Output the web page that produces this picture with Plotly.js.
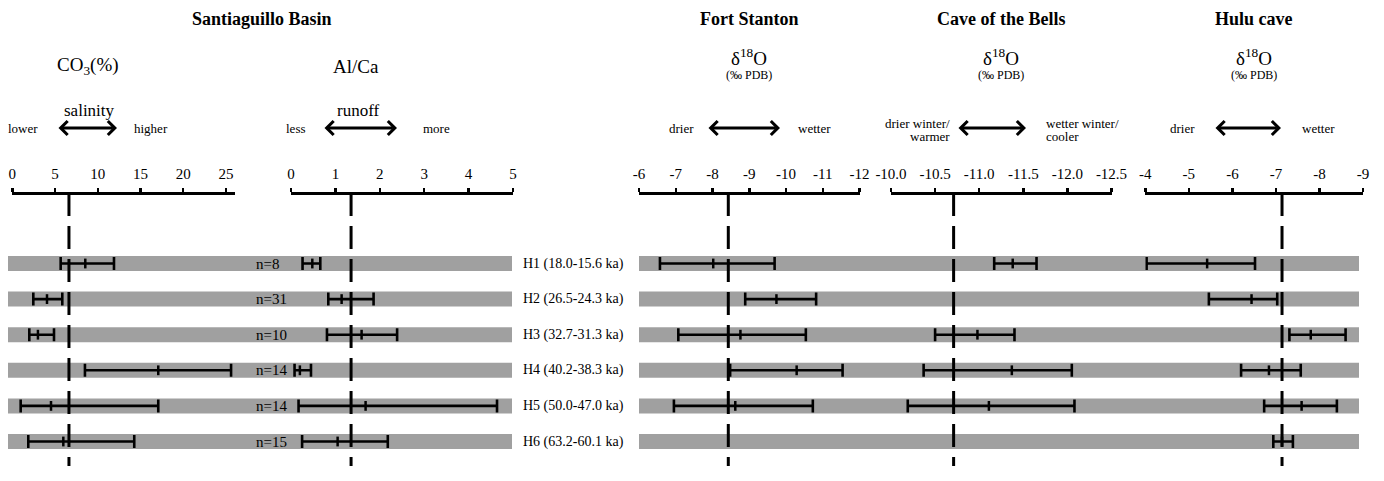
<!DOCTYPE html>
<html>
<head>
<meta charset="utf-8">
<script src="https://cdn.plot.ly/plotly-3.0.1.min.js"></script>
<style>
  html, body { margin: 0; padding: 0; background: #ffffff; }
  #chart { width: 1384px; height: 481px; }
</style>
</head>
<body>
<div id="chart"></div>
<script>
// ---- data -------------------------------------------------------------
const rows = [1, 2, 3, 4, 5, 6];
const intervals = ['H1 (18.0-15.6 ka)', 'H2 (26.5-24.3 ka)', 'H3 (32.7-31.3 ka)',
                   'H4 (40.2-38.3 ka)', 'H5 (50.0-47.0 ka)', 'H6 (63.2-60.1 ka)'];
const sampleCounts = ['n=8', 'n=31', 'n=10', 'n=14', 'n=14', 'n=15'];

// Santiaguillo Basin, CO3 (%)
const co3Low  = [5.66, 2.46, 1.99, 8.5, 0.98, 1.87];
const co3Mean = [8.54, 4.06, 3.0, 17.08, 4.53, 5.97];
const co3High = [11.9, 5.85, 4.88, 25.6, 17.08, 14.27];

// Santiaguillo Basin, Al/Ca
const alcaLow  = [0.26, 0.84, 0.81, 0.08, 0.17, 0.25];
const alcaMean = [0.48, 1.14, 1.59, 0.2, 1.68, 1.05];
const alcaHigh = [0.66, 1.86, 2.39, 0.45, 4.64, 2.18];

// Fort Stanton, d18O (permil PDB)
const fortLow  = [-6.57, -8.89, -7.07, -8.48, -6.95, null];
const fortMean = [-8.02, -9.74, -8.76, -10.29, -8.62, null];
const fortHigh = [-9.69, -10.82, -10.54, -11.54, -10.73, null];

// Cave of the Bells, d18O (permil PDB)
const caveLow  = [-11.17, null, -10.50, -10.37, -10.19, null];
const caveMean = [-11.38, null, -10.98, -11.37, -11.11, null];
const caveHigh = [-11.65, null, -11.40, -12.05, -12.08, null];

// Hulu cave, d18O (permil PDB)
const huluLow  = [-4.03, -5.46, -7.31, -6.20, -6.73, -6.94];
const huluMean = [-5.42, -6.44, -7.80, -6.84, -7.59, -7.14];
const huluHigh = [-6.52, -7.03, -8.60, -7.57, -8.40, -7.39];

// dashed reference value for each record
const refValues = [6.63, 1.353, -8.43, -10.71, -7.14];

// axis ticks
const co3Ticks  = [0, 5, 10, 15, 20, 25];
const co3Text   = ['0', '5', '10', '15', '20', '25'];
const alcaTicks = [0, 1, 2, 3, 4, 5];
const alcaText  = ['0', '1', '2', '3', '4', '5'];
const fortTicks = [-6, -7, -8, -9, -10, -11, -12];
const fortText  = ['-6', '-7', '-8', '-9', '-10', '-11', '-12'];
const caveTicks = [-10, -10.5, -11, -11.5, -12, -12.5];
const caveText  = ['-10.0', '-10.5', '-11.0', '-11.5', '-12.0', '-12.5'];
const huluTicks = [-4, -5, -6, -7, -8, -9];
const huluText  = ['-4', '-5', '-6', '-7', '-8', '-9'];

// ---- layout helpers ----------------------------------------------------
const W = 1384, H = 481;
const FONT = 'Liberation Serif, Times New Roman, serif';
const GRAY = '#a0a0a0';
const px = v => v / W;
const py = v => 1 - v / H;
const AXIS_Y = py(193);
const ROW_PX0 = 263.5, ROW_STEP = 35.6;

function topAxis(x0, x1, range, vals, text) {
  return {
    domain: [px(x0), px(x1)], range: range, anchor: 'free', position: AXIS_Y,
    side: 'top', showline: true, linecolor: '#000', linewidth: 2.5,
    ticks: 'outside', ticklen: 4, tickwidth: 2.5, tickcolor: '#000',
    tickmode: 'array', tickvals: vals, ticktext: text, ticklabelstandoff: 3,
    tickfont: { family: FONT, size: 15, color: '#000' },
    showgrid: false, zeroline: false, fixedrange: true
  };
}

// error bars run from the smaller to the larger bound, whatever the axis direction
function plusPart(low, mean, high) {
  return mean.map((m, i) => m == null ? null : Math.max(low[i], high[i]) - m);
}
function minusPart(low, mean, high) {
  return mean.map((m, i) => m == null ? null : m - Math.min(low[i], high[i]));
}

function record(axisId, low, mean, high) {
  return {
    type: 'scatter', mode: 'markers', xaxis: axisId, yaxis: 'y',
    x: mean, y: rows, cliponaxis: false, hoverinfo: 'skip', showlegend: false,
    marker: { symbol: 'line-ns-open', size: 7, color: '#000', line: { color: '#000', width: 2.5 } },
    error_x: {
      type: 'data', symmetric: false,
      array: plusPart(low, mean, high),
      arrayminus: minusPart(low, mean, high),
      color: '#000', thickness: 2.6, width: 6.5
    }
  };
}

const traces = [
  record('x',  co3Low,  co3Mean,  co3High),
  record('x2', alcaLow, alcaMean, alcaHigh),
  record('x3', fortLow, fortMean, fortHigh),
  record('x4', caveLow, caveMean, caveHigh),
  record('x5', huluLow, huluMean, huluHigh)
];

// ---- shapes: row bands and dashed reference lines -----------------------
const shapes = [];
const BAND_HALF = 7.5 / ROW_STEP;
rows.forEach(r => {
  [[8, 512], [639, 1359]].forEach(([a, b]) => {
    shapes.push({ type: 'rect', xref: 'paper', yref: 'y', layer: 'below',
      x0: px(a), x1: px(b), y0: r - BAND_HALF, y1: r + BAND_HALF,
      fillcolor: GRAY, line: { width: 0 } });
  });
});
['x', 'x2', 'x3', 'x4', 'x5'].forEach((ax, i) => {
  shapes.push({ type: 'line', xref: ax, yref: 'paper', layer: 'above',
    x0: refValues[i], x1: refValues[i], y0: AXIS_Y, y1: py(466),
    line: { color: '#000', width: 3, dash: '23px,10px' } });
});

// ---- annotations --------------------------------------------------------
const annotations = [];
function label(text, x, y, size, opts) {
  annotations.push(Object.assign({
    text: text, x: px(x), y: py(y), xref: 'paper', yref: 'paper',
    showarrow: false, xanchor: 'center', yanchor: 'middle',
    font: { family: FONT, size: size, color: '#000' }
  }, opts || {}));
}
function twoWay(x0, x1, y) {
  annotations.push({
    text: '', xref: 'paper', yref: 'paper', x: px(x1), y: py(y),
    ax: -(x1 - x0), ay: 0, showarrow: true, arrowside: 'end+start',
    arrowhead: 4, startarrowhead: 4, arrowsize: 0.9, startarrowsize: 0.9,
    arrowwidth: 3, arrowcolor: '#000', standoff: 0, startstandoff: 0
  });
}

// site titles
label('<b>Santiaguillo Basin</b>', 262, 19, 18);
label('<b>Fort Stanton</b>', 749, 19, 18);
label('<b>Cave of the Bells</b>', 1001, 19, 18);
label('<b>Hulu cave</b>', 1254, 19, 18);

// proxy names
label('CO<sub>3</sub>(%)', 88, 66, 19);
label('Al/Ca', 356, 66, 19);
[749, 1001, 1254].forEach(x => {
  label('δ<sup>18</sup>O', x, 57, 19);
  label('(‰ PDB)', x, 75, 12);
});

// interpretation arrows
label('salinity', 89, 110, 17);
label('lower', 23, 129, 13);
twoWay(57, 117, 128);
label('higher', 151, 129, 13);

label('runoff', 358, 110, 17);
label('less', 296, 129, 13);
twoWay(323, 397, 128);
label('more', 436, 129, 13);

label('drier', 681, 129, 13);
twoWay(707, 780, 128);
label('wetter', 814, 129, 13);

label('drier winter/', 952, 123, 13, { xanchor: 'right' });
label('warmer', 952, 137, 13, { xanchor: 'right' });
twoWay(957, 1026, 128);
label('wetter winter/', 1044, 123, 13, { xanchor: 'left' });
label('cooler', 1044, 137, 13, { xanchor: 'left' });

label('drier', 1182, 129, 13);
twoWay(1214, 1281, 128);
label('wetter', 1318, 129, 13);

// row labels
rows.forEach((r, i) => {
  annotations.push({ text: sampleCounts[i], xref: 'paper', yref: 'y', x: px(254), y: r,
    xanchor: 'left', yanchor: 'middle', showarrow: false,
    font: { family: FONT, size: 15, color: '#000' } });
  annotations.push({ text: intervals[i], xref: 'paper', yref: 'y', x: px(521), y: r,
    xanchor: 'left', yanchor: 'middle', showarrow: false,
    font: { family: FONT, size: 14, color: '#000' } });
});

// ---- layout -------------------------------------------------------------
const layout = {
  width: W, height: H,
  margin: { l: 0, r: 0, t: 0, b: 0, pad: 0, autoexpand: false },
  paper_bgcolor: '#ffffff', plot_bgcolor: 'rgba(0,0,0,0)',
  showlegend: false,
  font: { family: FONT, color: '#000' },
  xaxis:  topAxis(12.3, 235, [0, 26.06], co3Ticks, co3Text),
  xaxis2: topAxis(291, 513, [0, 5], alcaTicks, alcaText),
  xaxis3: topAxis(639, 859.5, [-6, -12], fortTicks, fortText),
  xaxis4: topAxis(891, 1111.5, [-10, -12.5], caveTicks, caveText),
  xaxis5: topAxis(1145.3, 1363, [-4, -9], huluTicks, huluText),
  yaxis: {
    domain: [0, 1], visible: false, fixedrange: true,
    range: [1 + (H - ROW_PX0) / ROW_STEP, 1 - ROW_PX0 / ROW_STEP]
  },
  shapes: shapes,
  annotations: annotations
};

Plotly.newPlot('chart', traces, layout, { staticPlot: true, displayModeBar: false });
</script>
</body>
</html>
